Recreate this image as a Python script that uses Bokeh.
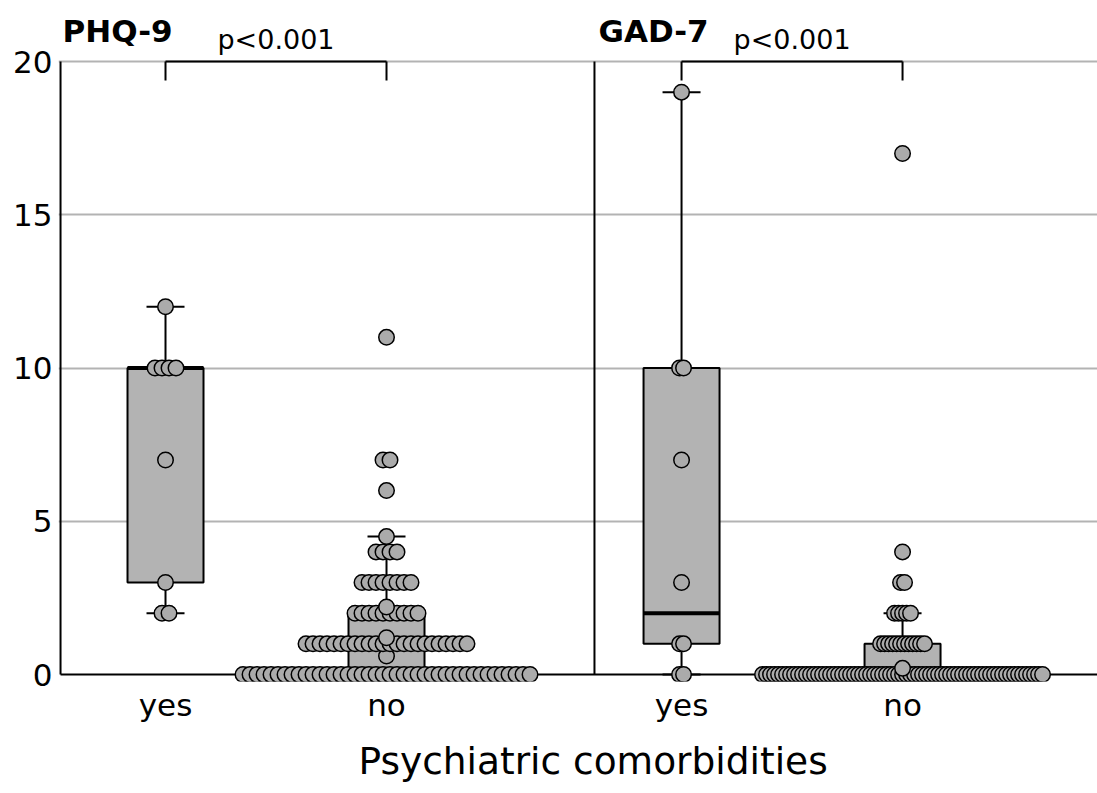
import numpy as np
from bokeh.plotting import figure
from bokeh.models import FixedTicker, CustomJSTickFormatter, Range1d, Title
from bokeh.core.properties import value
from bokeh.embed import file_html
from bokeh.resources import INLINE

# ---------------- data ----------------
scales = ["PHQ-9", "GAD-7"]
group_labels = ["yes", "no", "yes", "no"]
p_values = ["p<0.001", "p<0.001"]
x_title = "Psychiatric comorbidities"

phq9_yes = [12, 10, 10, 10, 10, 7, 3, 2, 2]
gad7_yes = [19, 10, 10, 7, 3, 1, 1, 0, 0]
phq9_no_values = [0, 0.6, 1, 1.2, 2, 2.2, 3, 4, 4.5, 6, 7, 11]
phq9_no_counts = [42, 1, 24, 1, 10, 1, 8, 4, 1, 1, 2, 1]
gad7_no_values = [0, 0.2, 1, 2, 3, 4, 17]
gad7_no_counts = [71, 1, 12, 5, 2, 1, 1]

# box statistics: PHQ-9 yes, PHQ-9 no, GAD-7 yes, GAD-7 no
box_q1 = [3, 0, 1, 0]
box_median = [10, 1, 2, 0]
box_q3 = [10, 2, 10, 1]
whisker_low = [2, 0, 0, 0]
whisker_high = [12, 4.5, 19, 2]

y_ticks = [0, 5, 10, 15, 20]

# ---------------- layout ----------------
W, H = 1097, 793
PX = 221.0                      # pixels per x unit
PY = 30.65                      # pixels per y unit
group_x = [1.0, 2.0, 3.335, 4.335]
divider_x = 2.941
spine_x = 0.525
border_left, border_bottom = 58, 112
x_start = 0.5158
x_end = x_start + (W - border_left) / PX
y_end = 674 / PY
y_start = -(H - border_bottom - 674) / PY
box_w = 76 / PX
cap_w = 38 / PX
step_phq = 7 / PX
step_gad = 4 / PX

FONT = "DejaVu Sans"
BOX_FILL = "#b3b3b3"
PT_FILL = "#ababab"

p = figure(width=W, height=H,
           x_range=Range1d(x_start, x_end), y_range=Range1d(y_start, y_end),
           output_backend="svg", toolbar_location=None,
           min_border_left=border_left, min_border_right=0, min_border_top=0,
           min_border_bottom=border_bottom)
p.outline_line_color = None
p.background_fill_color = "white"
p.border_fill_color = "white"

p.xgrid.visible = False
p.ygrid.ticker = FixedTicker(ticks=[t for t in y_ticks if t > 0])
p.ygrid.grid_line_color = "#b3b3b3"
p.ygrid.grid_line_width = 2

p.yaxis.ticker = FixedTicker(ticks=y_ticks)
p.yaxis.axis_line_color = None
p.yaxis.major_tick_line_color = None
p.yaxis.minor_tick_line_color = None
p.yaxis.major_tick_out = 0
p.yaxis.minor_tick_out = 0
p.yaxis.major_label_standoff = 6
p.yaxis.major_label_text_font = FONT
p.yaxis.major_label_text_font_size = "31px"
p.yaxis.major_label_text_color = "black"

p.xaxis.ticker = FixedTicker(ticks=group_x)
p.xaxis.formatter = CustomJSTickFormatter(
    args=dict(positions=group_x, names=group_labels),
    code="const i = positions.findIndex(t => Math.abs(t - tick) < 1e-6); return i >= 0 ? names[i] : '';")
p.xaxis.axis_line_color = None
p.xaxis.major_tick_line_color = None
p.xaxis.minor_tick_line_color = None
p.xaxis.major_tick_out = 0
p.xaxis.minor_tick_out = 0
p.xaxis.major_label_standoff = 5
p.xaxis.major_label_text_font = FONT
p.xaxis.major_label_text_font_size = "31px"
p.xaxis.major_label_text_color = "black"

# axis title, centred on the full (cropped) two-panel width
p.add_layout(Title(text=x_title, align="left", offset=300, standoff=22,
                   text_font=FONT, text_font_size="37.5px", text_font_style="normal",
                   text_color="black"), "below")

# spines: left axis, x axis at 0, panel divider
p.segment(x0=[spine_x, spine_x, divider_x], y0=[0, 0, 0],
          x1=[spine_x, x_end, divider_x], y1=[y_ticks[-1], 0, y_ticks[-1]],
          line_color="black", line_width=2)

# boxes
p.quad(left=[x - box_w / 2 for x in group_x], right=[x + box_w / 2 for x in group_x],
       bottom=box_q1, top=box_q3, fill_color=BOX_FILL, line_color="black", line_width=2)
p.segment(x0=[x - box_w / 2 for x in group_x], x1=[x + box_w / 2 for x in group_x],
          y0=box_median, y1=box_median, line_color="black", line_width=4)
# whiskers
p.segment(x0=group_x, x1=group_x, y0=box_q3, y1=whisker_high, line_color="black", line_width=2)
p.segment(x0=group_x, x1=group_x, y0=whisker_low, y1=box_q1, line_color="black", line_width=2)
p.segment(x0=[x - cap_w / 2 for x in group_x], x1=[x + cap_w / 2 for x in group_x],
          y0=whisker_high, y1=whisker_high, line_color="black", line_width=2)
p.segment(x0=[x - cap_w / 2 for x in group_x], x1=[x + cap_w / 2 for x in group_x],
          y0=whisker_low, y1=whisker_low, line_color="black", line_width=2)


def swarm(center, vals, counts, step):
    xs, ys = [], []
    for v, n in zip(vals, counts):
        offs = (np.arange(n) - (n - 1) / 2.0) * step
        xs.extend(center + offs)
        ys.extend([v] * n)
    return xs, ys


groups_data = []
u, c = np.unique(phq9_yes, return_counts=True)
groups_data.append(swarm(group_x[0], u, c, step_phq))
groups_data.append(swarm(group_x[1], phq9_no_values, phq9_no_counts, step_phq))
u, c = np.unique(gad7_yes, return_counts=True)
groups_data.append(swarm(group_x[2], u, c, step_gad))
groups_data.append(swarm(group_x[3], gad7_no_values, gad7_no_counts, step_gad))

for xs, ys in groups_data:
    p.scatter(x=xs, y=ys, size=15.5, fill_color=PT_FILL, line_color="black", line_width=1.5)

# significance brackets
pairs = [(group_x[0], group_x[1]), (group_x[2], group_x[3])]
bx0, by0, bx1, by1 = [], [], [], []
for a, b in pairs:
    bx0 += [a, a, b]; by0 += [20, 20, 20]
    bx1 += [b, a, b]; by1 += [20, 19.38, 19.38]
p.segment(x0=bx0, y0=by0, x1=bx1, y1=by1, line_color="black", line_width=2)

p.text(x=[(a + b) / 2 for a, b in pairs], y=[20.72, 20.72], text=p_values,
       text_font=value(FONT), text_font_size="27px", text_align="center",
       text_baseline="middle", text_color="black")

p.text(x=[spine_x + 2 / PX, divider_x + 4 / PX], y=[21.0, 21.0], text=scales,
       text_font=value(FONT), text_font_size="31px", text_font_style="bold",
       text_align="left", text_baseline="middle", text_color="black")

open("out.html", "w").write(file_html(p, INLINE))
